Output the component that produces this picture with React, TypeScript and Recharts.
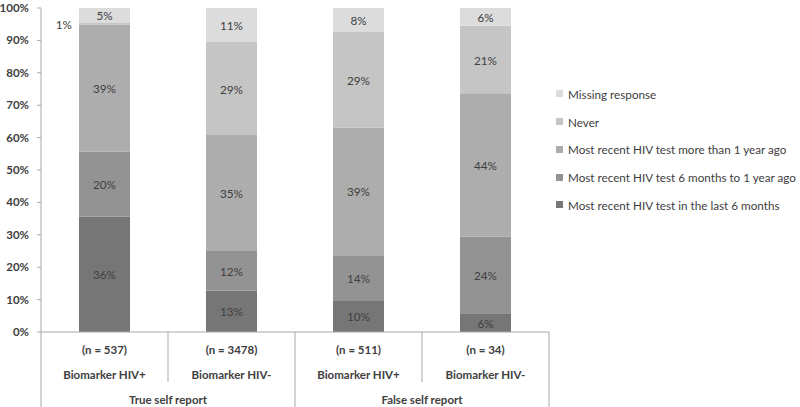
import React from 'react';
import { BarChart, Bar, XAxis, YAxis, LabelList } from 'recharts';

// ---- data ----
const categories = ['Biomarker HIV+', 'Biomarker HIV-', 'Biomarker HIV+', 'Biomarker HIV-'];
const sampleSizes = ['(n = 537)', '(n = 3478)', '(n = 511)', '(n = 34)'];
const groups = ['True self report', 'True self report', 'False self report', 'False self report'];

const last6Months = [35.6, 12.7, 9.6, 5.8];
const sixTo12Months = [20.0, 12.3, 14.1, 23.6];
const moreThan1Year = [39.2, 35.8, 39.4, 44.3];
const never = [0.6, 28.7, 29.5, 20.8];
const missing = [4.6, 10.5, 7.4, 5.5];

const last6Labels = ['36%', '13%', '10%', '6%'];
const sixTo12Labels = ['20%', '12%', '14%', '24%'];
const moreThan1YearLabels = ['39%', '35%', '39%', '44%'];
const neverLabels = ['1%', '29%', '29%', '21%'];
const missingLabels = ['5%', '11%', '8%', '6%'];

const yTicks = [0, 10, 20, 30, 40, 50, 60, 70, 80, 90, 100];

const seriesNames = {
  last6: 'Most recent HIV test in  the last 6 months',
  sixTo12: 'Most recent HIV test 6 months to 1 year ago',
  more: 'Most recent HIV test more than 1 year ago',
  never: 'Never',
  missing: 'Missing response',
};

const colors = {
  last6: '#767676',
  sixTo12: '#939393',
  more: '#adadad',
  never: '#c5c5c5',
  missing: '#dcdcdc',
};

const legendOrder: Array<keyof typeof seriesNames> = ['missing', 'never', 'more', 'sixTo12', 'last6'];

const data = categories.map((c, i) => ({
  id: `c${i}`,
  category: c,
  n: sampleSizes[i],
  group: groups[i],
  last6: last6Months[i],
  sixTo12: sixTo12Months[i],
  more: moreThan1Year[i],
  never: never[i],
  missing: missing[i],
}));

// ---- layout ----
const CHART_W = 800;
const CHART_H = 407;
const MARGIN = { top: 8, right: 251, bottom: 0, left: 0 };
const Y_AXIS_W = 41;
const X_AXIS_H = 75;
const PLOT_W = CHART_W - MARGIN.left - MARGIN.right - Y_AXIS_W;
const BAND = PLOT_W / categories.length;
const PLOT_BOTTOM = CHART_H - MARGIN.bottom - X_AXIS_H;
const LINE = '#a9a9a9';
const TEXT = '#404040';
const FONT = 'Lato, sans-serif';
const BOLD_SIZE = 11.5;
const LABEL_SIZE = 11.7;

const XTick = (props: any) => {
  const { x, payload } = props;
  const i = payload.index;
  const cx = Number(x);
  const left = cx - BAND / 2;
  const right = cx + BAND / 2;
  const groupStart = i === 0 || groups[i] !== groups[i - 1];
  const isLast = i === categories.length - 1;
  let groupLabel: React.ReactNode = null;
  if (groupStart) {
    let count = 0;
    while (i + count < groups.length && groups[i + count] === groups[i]) count++;
    const gc = left + (count * BAND) / 2;
    groupLabel = (
      <text x={gc} y={PLOT_BOTTOM + 67} textAnchor="middle" dominantBaseline="central" fontSize={BOLD_SIZE} fontWeight="bold" fill={TEXT}>
        {groups[i]}
      </text>
    );
  }
  return (
    <g>
      <line x1={left} x2={left} y1={PLOT_BOTTOM} y2={groupStart ? CHART_H : PLOT_BOTTOM + 50} stroke={LINE} strokeWidth={1} />
      {isLast && <line x1={right} x2={right} y1={PLOT_BOTTOM} y2={CHART_H} stroke={LINE} strokeWidth={1} />}
      <text x={cx} y={PLOT_BOTTOM + 17} textAnchor="middle" dominantBaseline="central" fontSize={BOLD_SIZE} fontWeight="bold" fill={TEXT}>
        {sampleSizes[i]}
      </text>
      <text x={cx} y={PLOT_BOTTOM + 42} textAnchor="middle" dominantBaseline="central" fontSize={BOLD_SIZE} fontWeight="bold" fill={TEXT}>
        {categories[i]}
      </text>
      {groupLabel}
    </g>
  );
};

const makeLabel = (labels: string[]) => (props: any) => {
  const { x, y, width, height, index } = props;
  const nx = Number(x), ny = Number(y), nw = Number(width), nh = Number(height);
  const text = labels[index];
  if (Math.abs(nh) < 5) {
    return (
      <text x={nx - 7} y={ny + nh / 2} textAnchor="end" dominantBaseline="central" fontSize={LABEL_SIZE} fill={TEXT}>
        {text}
      </text>
    );
  }
  return (
    <text x={nx + nw / 2} y={ny + nh / 2} textAnchor="middle" dominantBaseline="central" fontSize={LABEL_SIZE} fill={TEXT}>
      {text}
    </text>
  );
};

const LegendBox = () => (
  <div style={{ position: 'absolute', left: 556, top: 80, width: 244, fontSize: LABEL_SIZE, color: TEXT, fontFamily: FONT }}>
    {legendOrder.map((k) => (
      <div key={k} style={{ height: 27.75, display: 'flex', alignItems: 'center', whiteSpace: 'nowrap' }}>
        <span style={{ display: 'inline-block', flexShrink: 0, width: 7, height: 7, background: colors[k], marginRight: 5 }} />
        <span>{seriesNames[k]}</span>
      </div>
    ))}
  </div>
);

export default function App() {
  return (
    <div style={{ position: 'absolute', left: 0, top: 0, width: CHART_W, height: CHART_H, background: '#fff', fontFamily: FONT }}>
      <BarChart width={CHART_W} height={CHART_H} data={data} margin={MARGIN} barSize={51}>
        <XAxis
          dataKey="id"
          interval={0}
          tickLine={false}
          axisLine={{ stroke: LINE }}
          height={X_AXIS_H}
          tick={<XTick />}
        />
        <YAxis
          domain={[0, 100]}
          ticks={yTicks}
          allowDataOverflow
          width={Y_AXIS_W}
          tickFormatter={(v: number) => `${v}%`}
          tick={{ fontSize: BOLD_SIZE, fontWeight: 'bold', fill: TEXT }}
          tickSize={4}
          tickMargin={8}
          tickLine={{ stroke: LINE }}
          axisLine={{ stroke: LINE }}
        />
        <Bar dataKey="last6" name={seriesNames.last6} stackId="a" fill={colors.last6} isAnimationActive={false}>
          <LabelList dataKey="last6" content={makeLabel(last6Labels)} />
        </Bar>
        <Bar dataKey="sixTo12" name={seriesNames.sixTo12} stackId="a" fill={colors.sixTo12} isAnimationActive={false}>
          <LabelList dataKey="sixTo12" content={makeLabel(sixTo12Labels)} />
        </Bar>
        <Bar dataKey="more" name={seriesNames.more} stackId="a" fill={colors.more} isAnimationActive={false}>
          <LabelList dataKey="more" content={makeLabel(moreThan1YearLabels)} />
        </Bar>
        <Bar dataKey="never" name={seriesNames.never} stackId="a" fill={colors.never} isAnimationActive={false}>
          <LabelList dataKey="never" content={makeLabel(neverLabels)} />
        </Bar>
        <Bar dataKey="missing" name={seriesNames.missing} stackId="a" fill={colors.missing} isAnimationActive={false}>
          <LabelList dataKey="missing" content={makeLabel(missingLabels)} />
        </Bar>
      </BarChart>
      <LegendBox />
    </div>
  );
}
